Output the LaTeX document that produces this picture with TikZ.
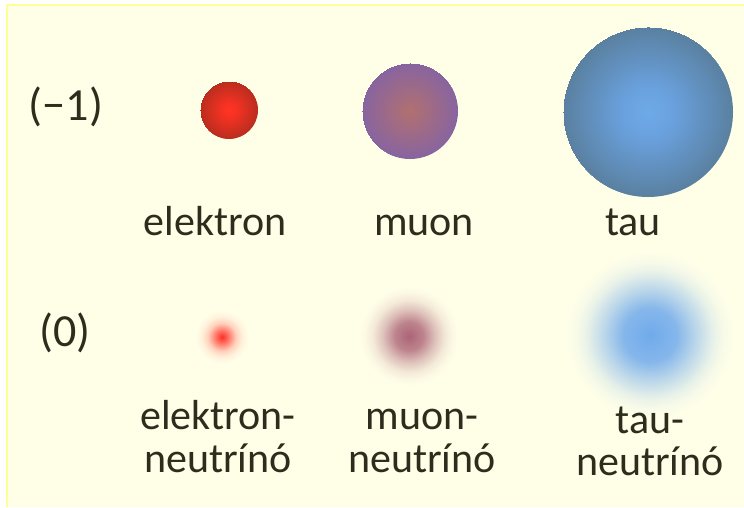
\documentclass[tikz,border=0pt]{standalone}
\usepackage{fontspec}
\setmainfont{Carlito}
\definecolor{bg}{RGB}{255,255,232}
\definecolor{bgborder}{RGB}{255,255,153}
\definecolor{txt}{RGB}{45,45,30}
\definecolor{eC}{RGB}{255,45,35}
\definecolor{mC}{RGB}{172,100,118}
\definecolor{tC}{RGB}{112,170,235}
\pgfdeclareradialshading{ballE}{\pgfpoint{0bp}{0bp}}{color(0bp)=(rgb,255:red,255;green,52;blue,36); color(6bp)=(rgb,255:red,245;green,50;blue,35); color(25bp)=(rgb,255:red,185;green,45;blue,30)}
\pgfdeclareradialshading{ballM}{\pgfpoint{0bp}{0bp}}{color(0bp)=(rgb,255:red,178;green,112;blue,112); color(25bp)=(rgb,255:red,135;green,100;blue,160)}
\pgfdeclareradialshading{ballT}{\pgfpoint{0bp}{0bp}}{color(0bp)=(rgb,255:red,110;green,170;blue,232); color(8bp)=(rgb,255:red,105;green,160;blue,220); color(25bp)=(rgb,255:red,90;green,128;blue,160)}
\pgfdeclareradialshading{glowE}{\pgfpoint{0bp}{0bp}}{color(0bp)=(eC); color(6bp)=(eC!65!bg); color(13bp)=(eC!22!bg); color(19bp)=(eC!6!bg); color(25bp)=(bg); color(50bp)=(bg)}
\pgfdeclareradialshading{glowM}{\pgfpoint{0bp}{0bp}}{color(0bp)=(mC); color(7bp)=(mC!80!bg); color(13bp)=(mC!40!bg); color(18bp)=(mC!14!bg); color(22bp)=(mC!4!bg); color(25bp)=(bg); color(50bp)=(bg)}
\pgfdeclareradialshading{glowT}{\pgfpoint{0bp}{0bp}}{color(0bp)=(tC); color(8bp)=(tC!85!bg); color(14bp)=(tC!45!bg); color(19bp)=(tC!15!bg); color(22bp)=(tC!5!bg); color(25bp)=(bg); color(50bp)=(bg)}
\tikzset{
  lbl/.style={text=txt, font=\fontsize{42}{43}\selectfont, inner sep=0pt, align=center},
  side/.style={text=txt, font=\fontsize{46}{46}\selectfont, inner sep=0pt},
}
\begin{document}
\begin{tikzpicture}[x=1pt,y=-1pt]
\useasboundingbox (0,0) rectangle (744,507);
\fill[white] (0,0) rectangle (744,507);
\fill[bg] (7,5) rectangle (744,507);
\draw[bgborder, line width=2pt] (7,507) -- (7,5) -- (744,5);
% charged leptons
\shade[shading=ballE] (229,110) circle (29);
\shade[shading=ballM] (410,111) circle (48);
\shade[shading=ballT] (648,112) circle (85);
% neutrinos
\shade[shading=glowE] (222,337) circle (27);
\shade[shading=glowM] (409,336) circle (50);
\shade[shading=glowT] (650,335) circle (84);
% labels
\node[side, anchor=base] (m1) at (66,120) {(−1)};
\node[side, anchor=base] (z0) at (65,346) {(0)};
\node[lbl, anchor=base] (el) at (215,235) {elektron};
\node[lbl, anchor=base] (mu) at (424,235) {muon};
\node[lbl, anchor=base] (ta) at (633,235) {tau};
\node[lbl, anchor=base] (nel1) at (218,429) {elektron-};
\node[lbl, anchor=base] (nel2) at (218,472) {neutrínó};
\node[lbl, anchor=base] (nmu1) at (422,429) {muon-};
\node[lbl, anchor=base] (nmu2) at (422,472) {neutrínó};
\node[lbl, anchor=base] (nta1) at (650,433) {tau-};
\node[lbl, anchor=base] (nta2) at (650,475) {neutrínó};
\end{tikzpicture}
\end{document}
